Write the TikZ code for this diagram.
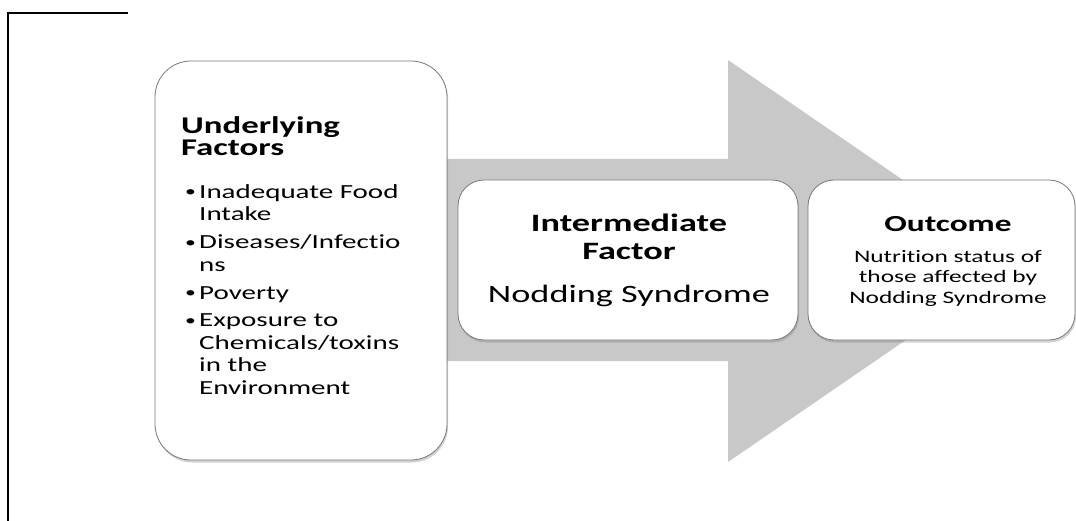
\documentclass[tikz,border=0pt]{standalone}
\usepackage{fontspec}
\newfontfamily\carl[FakeStretch=1.45, Ligatures=NoCommon]{Carlito}
\usetikzlibrary{shadows}
\definecolor{arrowgray}{RGB}{200,200,200}
\definecolor{boxline}{RGB}{120,120,120}
\newcommand\bul{\makebox[14pt][l]{\raisebox{1.5pt}{\fontsize{15}{15}\selectfont\textbullet}}}
\newcommand\ind{\hspace*{14pt}}
\tikzset{
  card/.style={draw=boxline, line width=0.8pt, fill=white, rounded corners=#1,
    drop shadow={opacity=0.35, shadow xshift=1pt, shadow yshift=-2.5pt}},
  txt/.style={inner sep=0pt, text=black},
  frameline/.style={draw=black, line width=2pt}
}
\begin{document}
\begin{tikzpicture}[x=1pt, y=-1pt]
\useasboundingbox (0,0) rectangle (1076,521);
% frame lines
\coordinate (fa) at (128,13);
\coordinate (fb) at (8,13);
\coordinate (fc) at (8,521);
\draw[frameline] (fa) -- (fb) -- (fc);
% big arrow
\fill[arrowgray] (300,159) -- (728,159) -- (728,60) -- (1021,261) -- (728,462) -- (728,361) -- (300,361) -- cycle;
% boxes
\node[card=36pt, minimum width=292pt, minimum height=399pt] (under) at (301,260.5) {};
\node[card=26pt, minimum width=340pt, minimum height=160pt] (inter) at (628,260) {};
\node[card=26pt, minimum width=267pt, minimum height=160pt] (outc) at (941.5,260) {};
% texts (anchor base = baseline of the last line)
\node[txt, anchor=base west, align=left, font=\carl\bfseries\fontsize{24}{22}\selectfont] (ut) at (181,156) {Underlying\\Factors};
\node[txt, anchor=base west, align=left, font=\carl\fontsize{20}{22.5}\selectfont] (ul) at (185,394)
 {\bul Inadequate Food\\ \ind Intake\\[5.5pt]
  \bul Diseases/Infectio\\ \ind ns\\[5.5pt]
  \bul Poverty\\[5pt]
  \bul Exposure to\\ \ind Chemicals/toxins\\ \ind in the\\ \ind Environment};
\node[txt, anchor=base, align=center, font=\carl\bfseries\fontsize{25}{28}\selectfont] (it) at (629,260) {Intermediate\\Factor};
\node[txt, anchor=base, align=center, font=\carl\fontsize{25}{28}\selectfont] (ib) at (629,302) {Nodding Syndrome};
\node[txt, anchor=base, align=center, font=\carl\bfseries\fontsize{23}{28}\selectfont] (ot) at (948,232) {Outcome};
\node[txt, anchor=base, align=center, font=\carl\fontsize{17.5}{20}\selectfont] (ob) at (948,303) {Nutrition status of\\those affected by\\Nodding Syndrome};
\end{tikzpicture}
\end{document}
